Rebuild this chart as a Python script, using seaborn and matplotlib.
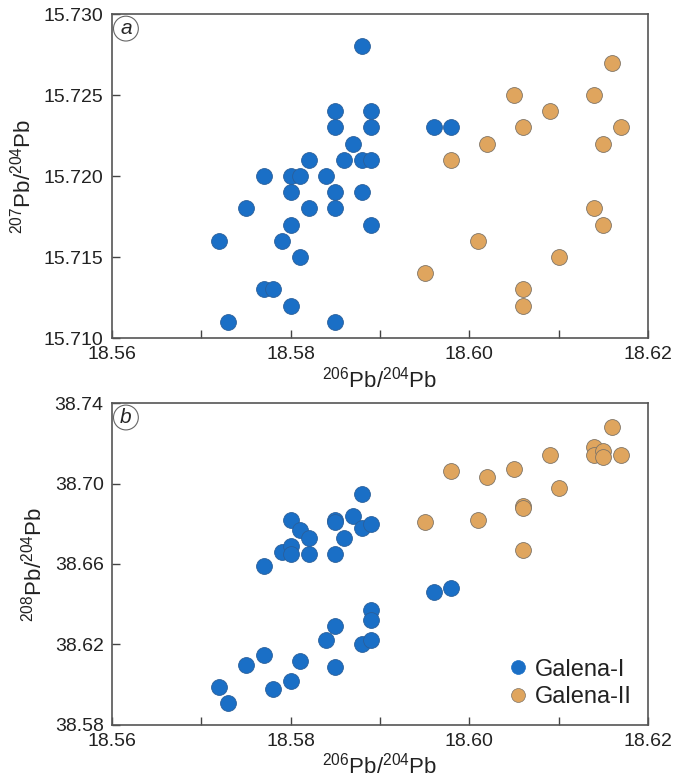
import numpy as np
import pandas as pd
import matplotlib
matplotlib.use('Agg')
import matplotlib.pyplot as plt
from matplotlib.ticker import MultipleLocator, FixedLocator, FormatStrFormatter
import seaborn as sns

# 206Pb/204Pb, 207Pb/204Pb, 208Pb/204Pb
g1_206 = [18.572, 18.573, 18.575, 18.577, 18.577, 18.578, 18.579, 18.580, 18.580,
          18.580, 18.580, 18.581, 18.581, 18.582, 18.582, 18.584, 18.585, 18.585,
          18.585, 18.585, 18.585, 18.586, 18.587, 18.588, 18.588, 18.588, 18.589,
          18.589, 18.589, 18.589, 18.596, 18.598]
g1_207 = [15.716, 15.711, 15.718, 15.720, 15.713, 15.713, 15.716, 15.720, 15.719,
          15.717, 15.712, 15.720, 15.715, 15.721, 15.718, 15.720, 15.724, 15.723,
          15.719, 15.718, 15.711, 15.721, 15.722, 15.728, 15.721, 15.719, 15.724,
          15.723, 15.721, 15.717, 15.723, 15.723]
g1_208 = [38.599, 38.591, 38.610, 38.659, 38.615, 38.598, 38.666, 38.682, 38.669,
          38.665, 38.602, 38.677, 38.612, 38.673, 38.665, 38.622, 38.682, 38.681,
          38.665, 38.629, 38.609, 38.673, 38.684, 38.695, 38.678, 38.620, 38.680,
          38.637, 38.632, 38.622, 38.646, 38.648]

g2_206 = [18.595, 18.598, 18.601, 18.602, 18.605, 18.606, 18.606, 18.606, 18.609,
          18.610, 18.614, 18.614, 18.615, 18.615, 18.616, 18.617]
g2_207 = [15.714, 15.721, 15.716, 15.722, 15.725, 15.723, 15.713, 15.712, 15.724,
          15.715, 15.725, 15.718, 15.722, 15.717, 15.727, 15.723]
g2_208 = [38.681, 38.706, 38.682, 38.703, 38.707, 38.689, 38.688, 38.667, 38.714,
          38.698, 38.718, 38.714, 38.716, 38.713, 38.728, 38.714]

groups = ['Galena-I', 'Galena-II']
colors = {'Galena-I': '#1a6fc6', 'Galena-II': '#dfa55e'}

x_ticks = [18.56, 18.58, 18.60, 18.62]
y207_ticks = [15.710, 15.715, 15.720, 15.725, 15.730]
y208_ticks = [38.58, 38.62, 38.66, 38.70, 38.74]

df = pd.DataFrame({
    'pb206': g1_206 + g2_206,
    'pb207': g1_207 + g2_207,
    'pb208': g1_208 + g2_208,
    'group': [groups[0]] * len(g1_206) + [groups[1]] * len(g2_206),
})

sns.set_style('white')
plt.rcParams['font.family'] = ['Liberation Sans', 'DejaVu Sans']
plt.rcParams['mathtext.fontset'] = 'custom'
plt.rcParams['mathtext.rm'] = 'Liberation Sans'
plt.rcParams['mathtext.it'] = 'Liberation Sans:italic'

fig = plt.figure(figsize=(6.77, 7.83), dpi=100)
ax1 = fig.add_axes([0.1654, 0.5683, 0.7917, 0.4138])
ax2 = fig.add_axes([0.1654, 0.0741, 0.7917, 0.4112])

xlab = r'$^{206}\mathregular{Pb/}^{204}\mathregular{Pb}$'

for ax, ycol, yticks, yfmt, ylab, tag in [
        (ax1, 'pb207', y207_ticks, '%.3f',
         r'$^{207}\mathregular{Pb/}^{204}\mathregular{Pb}$', 'a'),
        (ax2, 'pb208', y208_ticks, '%.2f',
         r'$^{208}\mathregular{Pb/}^{204}\mathregular{Pb}$', 'b')]:
    for g in groups:
        sub = df[df['group'] == g]
        ec = '#2a5f9a' if g == 'Galena-I' else '#7f7466'
        sns.scatterplot(data=sub, x='pb206', y=ycol, color=colors[g], s=130,
                        edgecolor=ec, linewidth=0.6, ax=ax, legend=False, zorder=3)
    ax.set_xlim(x_ticks[0], x_ticks[-1])
    ax.set_ylim(yticks[0], yticks[-1])
    ax.xaxis.set_major_locator(FixedLocator(x_ticks))
    ax.xaxis.set_minor_locator(MultipleLocator(0.01))
    ax.xaxis.set_major_formatter(FormatStrFormatter('%.2f'))
    ax.yaxis.set_major_locator(FixedLocator(yticks))
    ax.yaxis.set_major_formatter(FormatStrFormatter(yfmt))
    ax.tick_params(which='both', direction='in', length=6, width=1, color='#444444',
                   labelsize=14, pad=6, left=True, bottom=True, labelcolor='#222222')
    for sp in ax.spines.values():
        sp.set_color('#555555')
        sp.set_linewidth(1.2)
    ax.set_xlabel(xlab, fontsize=16, labelpad=2, color='#222222')
    ax.set_ylabel(ylab, fontsize=16, labelpad=6, color='#222222')
    ax.text(0.026, 0.955, tag, transform=ax.transAxes, fontsize=15, style='italic',
            ha='center', va='center',
            bbox=dict(boxstyle='circle,pad=0.14', fc='white', ec='#666666', lw=0.8))

handles = [plt.Line2D([], [], marker='o', ls='', ms=10, color=colors[g],
                      markeredgecolor='#7f7466' if g == 'Galena-II' else colors[g],
                      markeredgewidth=0.5) for g in groups]
ax2.legend(handles, groups, loc='lower right', frameon=False, fontsize=17,
           handlelength=0.8, handletextpad=0.3, labelspacing=0.25,
           borderaxespad=0.3, bbox_to_anchor=(1.0, 0.0), labelcolor='#222222')

fig.savefig('out.png', dpi=100)
